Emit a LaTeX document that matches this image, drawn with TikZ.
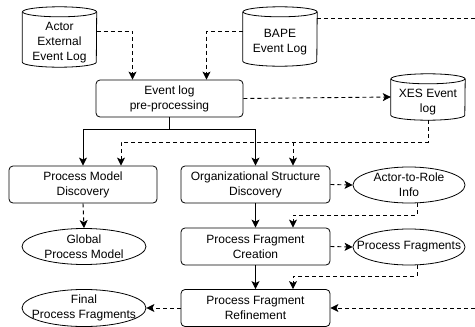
\documentclass[tikz,border=0pt]{standalone}
\usepackage{fontspec}
\setmainfont{Liberation Sans}
\usepackage{tikz}
\usetikzlibrary{arrows.meta, positioning, shapes.geometric, calc}
\newcommand{\spill}[1]{\makebox[0pt]{#1}}
\newcommand{\dbtext}[1]{\raisebox{-8pt}[0pt][0pt]{\begin{tabular}{@{}c@{}}#1\end{tabular}}}
\newcommand{\dbshape}[1]{%
  \draw[line width=0.8pt] ([yshift=-5pt]#1.north west) -- ([yshift=5pt]#1.south west)
    arc[start angle=180, end angle=360, x radius=37pt, y radius=5pt]
    -- ([yshift=-5pt]#1.north east);
  \draw[line width=0.8pt] ([yshift=-5pt]#1.north) ellipse [x radius=37pt, y radius=5pt];}

\begin{document}
\begin{tikzpicture}[x=1pt, y=-1pt,
    font=\fontsize{12}{15}\selectfont,
    stepbox/.style={draw, rounded corners=4pt, minimum width=148pt,
      minimum height=37pt, align=center, line width=0.8pt},
    logdb/.style={minimum width=74pt, inner sep=0pt},
    result/.style={draw, ellipse, minimum width=112pt, minimum height=36pt,
      inner sep=0pt, align=center, line width=0.8pt},
    flow/.style={-{Stealth[length=8pt, width=8pt, inset=2pt]}, line width=0.9pt},
    data/.style={flow, dash pattern=on 4pt off 3pt}]
    \useasboundingbox (0,0) rectangle (475,327);

    \node[logdb, minimum height=60pt] (actorlog) at (59.5,37) {\dbtext{Actor\\External\\Event Log}};
    \node[logdb, minimum height=59pt] (bapelog) at (280,36.5) {\dbtext{BAPE\\Event Log}};
    \node[stepbox, minimum width=147pt] (prep) at (169.5,98.5) {Event log\\pre-processing};
    \node[logdb, minimum height=46pt] (xeslog) at (428,97) {\dbtext{XES Event\\log}};
    \node[stepbox] (pmd) at (83,184.5) {Process Model\\Discovery};
    \node[stepbox, minimum width=149pt] (osd) at (255.5,184.5) {Organizational Structure\\Discovery};
    \node[result] (a2r) at (409,185) {Actor-to-Role\\Info};
    \node[stepbox, minimum width=149pt] (pfc) at (255.5,246.5) {Process Fragment\\Creation};
    \node[result] (frags) at (409,247) {\spill{Process Fragments}};
    \node[stepbox, minimum width=149pt] (pfr) at (255.5,308) {Process Fragment\\Refinement};
    \node[result, minimum width=124pt] (gpm) at (84,246.5) {Global\\Process Model};
    \node[result, minimum width=124pt] (final) at (84,308) {Final\\\spill{Process Fragments}};
    \dbshape{actorlog}
    \dbshape{bapelog}
    \dbshape{xeslog}

    \coordinate (prepsplit) at ($(prep.south)+(0,12)$);
    \coordinate (xesturn) at ($(xeslog.south)+(0,22)$);
    \coordinate (pmdin) at ([xshift=38pt]pmd.north);
    \coordinate (osdin) at ([xshift=37.5pt]osd.north);
    \coordinate (rimtop) at (510,18);
    \coordinate (rimbottom) at (510,308);

    \draw[data] ([yshift=6pt]actorlog.east) -| ([xshift=-37pt]prep.north);
    \draw[data] ([yshift=5.5pt]bapelog.west) -| ([xshift=37pt]prep.north);
    \draw[data] ([yshift=18.5pt]bapelog.east) -- (rimtop) -- (rimbottom) -- (pfr.east);
    \draw[data] (prep.east) -- (xeslog.west);
    \draw[flow] (prep.south) -- (prepsplit) -| (pmd.north);
    \draw[flow] (prepsplit) -| (osd.north);
    \draw[data] (xeslog.south) -- (xesturn) -| (pmdin);
    \draw[data] (xesturn -| osdin) -- (osdin);
    \draw[data] (pmd.south) -- (gpm.north);
    \draw[data] (osd.east) -- (a2r.west);
    \draw[flow] (osd.south) -- (pfc.north);
    \draw[data] ([xshift=8pt]a2r.south) -- ++(0,12) -| ([xshift=37.5pt]pfc.north);
    \draw[data] (pfc.east) -- (frags.west);
    \draw[flow] (pfc.south) -- (pfr.north);
    \draw[data] ([xshift=8pt]frags.south) -- ++(0,11) -| ([xshift=37.5pt]pfr.north);
    \draw[data] (pfr.west) -- (final.east);
\end{tikzpicture}
\end{document}
